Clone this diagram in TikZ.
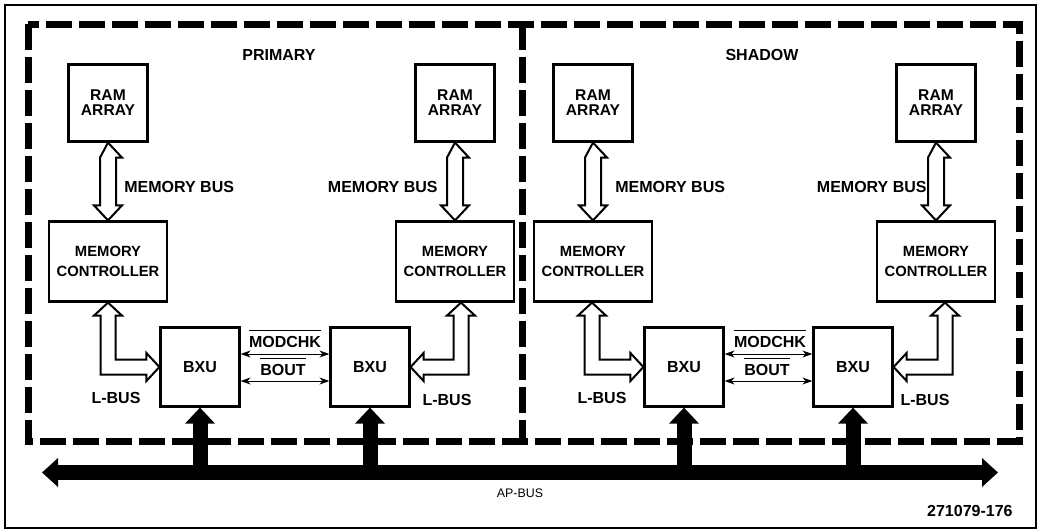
\documentclass[tikz,border=0pt]{standalone}
\usepackage{fontspec}
\setmainfont{Liberation Sans}
\usetikzlibrary{arrows.meta,calc}
\newcommand{\ovl}[1]{$\overline{\hbox{\rule{0pt}{7pt}#1}}$}
\tikzset{
  block/.style={draw, line width=1.1pt, inner sep=0pt, align=center, font=\fontsize{8}{10}\selectfont\bfseries},
  ram/.style={block, minimum width=39.5pt, minimum height=38.5pt, font=\fontsize{7.8}{7.5}\selectfont\bfseries},
  ctrl/.style={block, minimum width=59pt, minimum height=40pt, font=\fontsize{7.4}{10}\selectfont\bfseries},
  bxu/.style={block, minimum width=39.5pt, minimum height=39.5pt},
  lbl/.style={inner sep=0pt, font=\fontsize{8}{10}\selectfont\bfseries},
  aplbl/.style={inner sep=0pt, font=\fontsize{6.2}{7}\selectfont},
  hollow/.style={draw, fill=white, line width=1pt, line join=miter},
  signal/.style={line width=0.5pt, {Stealth[length=5pt,width=3.5pt]}-{Stealth[length=5pt,width=3.5pt]}},
  apbus/.style={line width=7.5pt, {Triangle[length=8pt,width=14pt]}-{Triangle[length=8pt,width=14pt]}},
  apstub/.style={line width=7.5pt, -{Triangle[length=8pt,width=14.5pt]}},
  partition/.style={line width=3.5pt, dash pattern=on 13pt off 3.5pt}
}
\begin{document}
\begin{tikzpicture}[x=0.5pt, y=-0.5pt]
  \useasboundingbox (0,0) rectangle (1040,531);
  \draw[line width=1pt] (5,5) rectangle (1036,528);

  % primary / shadow halves
  \draw[partition] (28,24) rectangle (1019,441);
  \draw[partition] (522,24) -- (522,441);
  \node[lbl, anchor=base] (primary) at (279,60) {PRIMARY};
  \node[lbl, anchor=base] (shadow) at (762,60) {SHADOW};

  \foreach \n/\x in {A/108,B/455,C/593,D/936} {
    \node[ram] (ram\n) at (\x,103) {RAM\\ARRAY};
    \node[ctrl] (mc\n) at (\x,261.5) {MEMORY\\CONTROLLER};
  }
  \foreach \n/\x in {A/200,B/370,C/684,D/853} {
    \node[bxu] (bx\n) at (\x,367) {BXU};
  }

  % memory buses
  \foreach \n in {A,B,C,D} {
    \draw[hollow] (ram\n.south) -- ++(14,15) -- ++(-6,0) -- ($(mc\n.north)+(8,-15)$) -- ++(6,0)
      -- (mc\n.north) -- ++(-14,-15) -- ++(6,0) -- ($(ram\n.south)+(-8,15)$) -- cycle;
  }
  \node[lbl, anchor=base west] (mbA) at (124,192) {MEMORY BUS};
  \node[lbl, anchor=base east] (mbB) at (438,192) {MEMORY BUS};
  \node[lbl, anchor=base west] (mbC) at (615,192) {MEMORY BUS};
  \node[lbl, anchor=base east] (mbD) at (927,192) {MEMORY BUS};

  % L-buses
  \foreach \n/\dx/\sg/\side in {A/0/1/west, B/6/-1/east, C/-1/1/west, D/9/-1/east} {
    \coordinate (lb\n) at ($(mc\n.south)+(\dx,0)$);
    \draw[hollow] (lb\n) -- ++({14*(\sg)},13) -- ++({-6.5*(\sg)},0)
      |- ($(bx\n.\side)+({-13*(\sg)},-7.5)$) -- ++(0,-6.5) -- (bx\n.\side)
      -- ++({-13*(\sg)},14) -- ++(0,-6.5) -| ($(lb\n)+({-7.5*(\sg)},13)$)
      -- ++({-6.5*(\sg)},0) -- cycle;
  }
  \node[lbl, anchor=base] (lbusA) at (116,403) {L-BUS};
  \node[lbl, anchor=base] (lbusB) at (447,405) {L-BUS};
  \node[lbl, anchor=base] (lbusC) at (602,403) {L-BUS};
  \node[lbl, anchor=base] (lbusD) at (925,405) {L-BUS};

  % check lines between BXUs
  \draw[signal] ($(bxA.east)+(0,-13)$) -- ($(bxB.west)+(0,-13)$);
  \draw[signal] ($(bxA.east)+(0,14)$) -- ($(bxB.west)+(0,14)$);
  \draw[signal] ($(bxC.east)+(0,-13)$) -- ($(bxD.west)+(0,-13)$);
  \draw[signal] ($(bxC.east)+(0,14)$) -- ($(bxD.west)+(0,14)$);
  \node[lbl, anchor=base] (modA) at (285,347) {\ovl{MODCHK}};
  \node[lbl, anchor=base] (boutA) at (283,375) {\ovl{BOUT}};
  \node[lbl, anchor=base] (modC) at (770,347) {\ovl{MODCHK}};
  \node[lbl, anchor=base] (boutC) at (767,375) {\ovl{BOUT}};

  % AP-bus
  \coordinate (apL) at (42,472.5);
  \coordinate (apR) at (998,472.5);
  \draw[apbus] (apL) -- (apR);
  \foreach \n in {A,B,C,D}
    \draw[apstub] (bx\n.south |- apL) -- (bx\n.south);
  \node[aplbl, anchor=base] (aplabel) at (520,497) {AP-BUS};
  \node[lbl, anchor=base east] (figno) at (1013,516) {271079-176};
\end{tikzpicture}
\end{document}
